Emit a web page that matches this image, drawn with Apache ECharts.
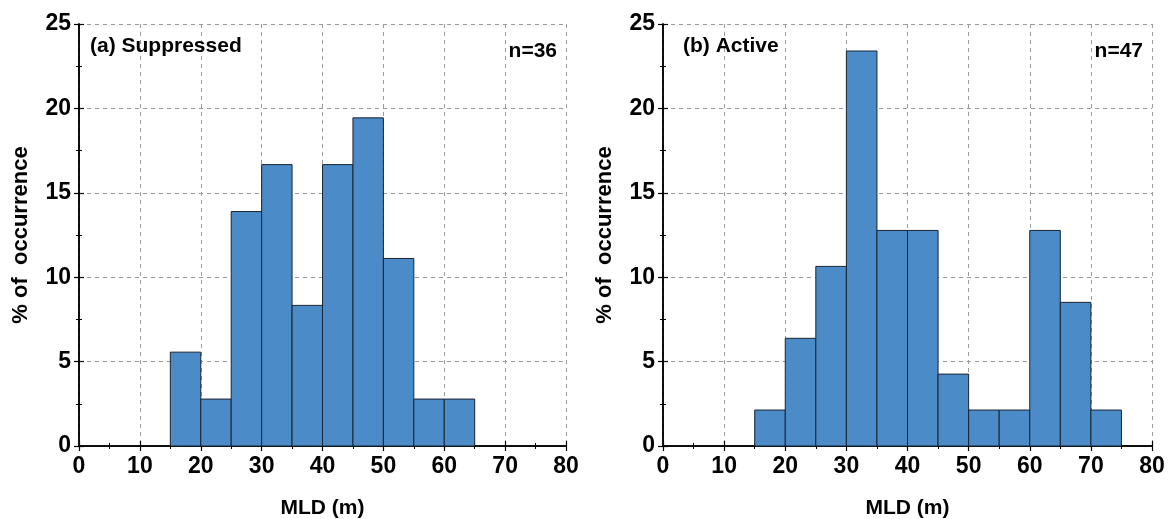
<!DOCTYPE html>
<html>
<head>
<meta charset="utf-8">
<script src="https://cdn.jsdelivr.net/npm/echarts@6/dist/echarts.min.js"></script>
<style>
  html, body { margin: 0; padding: 0; background: #fff; }
  #chart { width: 1168px; height: 519px; }
</style>
</head>
<body>
<div id="chart"></div>
<script>
// Histogram bins of mixed layer depth (m), 5 m wide
var binStart = [15, 20, 25, 30, 35, 40, 45, 50, 55, 60, 65, 70];
var binWidth = 5;
// Percent of occurrence per bin
var suppressedPct = [5.56, 2.78, 13.89, 16.67, 8.33, 16.67, 19.44, 11.11, 2.78, 2.78];
var activePct = [2.13, 6.38, 10.64, 23.40, 12.77, 12.77, 4.26, 2.13, 2.13, 12.77, 8.51, 2.13];
var panelTitles = ['(a) Suppressed', '(b) Active'];
var panelCounts = ['n=36', 'n=47'];

var FONT = '"Liberation Sans", Arial, sans-serif';
var BAR = '#4a8bc8';

function histData(pcts) {
  return pcts.map(function (v, i) { return [binStart[i], binStart[i] + binWidth, v]; });
}

function renderBin(params, api) {
  var p0 = api.coord([api.value(0), api.value(2)]);
  var p1 = api.coord([api.value(1), 0]);
  return {
    type: 'rect',
    shape: { x: p0[0], y: p0[1], width: p1[0] - p0[0], height: p1[1] - p0[1] },
    style: { fill: BAR, stroke: '#1b2430', lineWidth: 1 }
  };
}

var grids = [
  { left: 79, right: 602, top: 24, bottom: 73, outerBoundsMode: 'none', containLabel: false },
  { left: 663, right: 16, top: 24, bottom: 73, outerBoundsMode: 'none', containLabel: false }
];

var axisLine = { show: true, lineStyle: { color: '#000', width: 1.5 } };
var split = { show: true, lineStyle: { color: '#9a9a9a', type: [4, 4], width: 1 } };
var tick = { show: true, length: 5, lineStyle: { color: '#000', width: 1.2 } };
var minor = { show: true, splitNumber: 2, length: 3, lineStyle: { color: '#000', width: 1 } };
var nameStyle = { color: '#000', fontFamily: FONT, fontWeight: 'bold', fontSize: 21 };
var tickLabel = { color: '#000', fontFamily: FONT, fontWeight: 'bold', fontSize: 23 };

var xAxes = [], yAxes = [], series = [];
grids.forEach(function (g, k) {
  xAxes.push({
    type: 'value', gridIndex: k, min: 0, max: 80, interval: 10, position: 'bottom',
    axisLine: axisLine, axisTick: tick, minorTick: minor,
    axisLabel: Object.assign({ margin: 9 }, tickLabel),
    splitLine: split,
    name: 'MLD (m)', nameLocation: 'middle', nameGap: 52,
    nameTextStyle: nameStyle
  });
  xAxes.push({
    type: 'value', gridIndex: k, min: 0, max: 80, interval: 10, position: 'top',
    axisLine: axisLine, axisTick: tick, minorTick: minor,
    axisLabel: { show: false }, splitLine: { show: false }
  });
  yAxes.push({
    type: 'value', gridIndex: k, min: 0, max: 25, interval: 5, position: 'left',
    axisLine: axisLine, axisTick: tick, minorTick: minor,
    axisLabel: Object.assign({ margin: 8 }, tickLabel),
    splitLine: split,
    name: '% of  occurrence', nameLocation: 'middle', nameGap: 47,
    nameTextStyle: Object.assign({}, nameStyle, { fontSize: 22 })
  });
  yAxes.push({
    type: 'value', gridIndex: k, min: 0, max: 25, interval: 5, position: 'right',
    axisLine: axisLine, axisTick: tick, minorTick: minor,
    axisLabel: { show: false }, splitLine: { show: false }
  });
  series.push({
    type: 'custom', xAxisIndex: k * 2, yAxisIndex: k * 2,
    renderItem: renderBin, encode: { x: [0, 1], y: 2 },
    data: histData(k === 0 ? suppressedPct : activePct),
    z: 3
  });
});

var titleStyle = { color: '#000', fontFamily: FONT, fontWeight: 'bold', fontSize: 21 };
var titles = [
  { text: panelTitles[0], left: 90, top: 36, textStyle: titleStyle },
  { text: panelCounts[0], right: 611, top: 41, textStyle: titleStyle },
  { text: panelTitles[1], left: 683, top: 36, textStyle: titleStyle },
  { text: panelCounts[1], right: 25, top: 41, textStyle: titleStyle }
];
titles.forEach(function (t) { t.padding = 0; });

var chart = echarts.init(document.getElementById('chart'), null, { renderer: 'canvas' });
chart.setOption({
  animation: false,
  backgroundColor: '#fff',
  title: titles,
  grid: grids,
  xAxis: xAxes,
  yAxis: yAxes,
  series: series
});
</script>
</body>
</html>
